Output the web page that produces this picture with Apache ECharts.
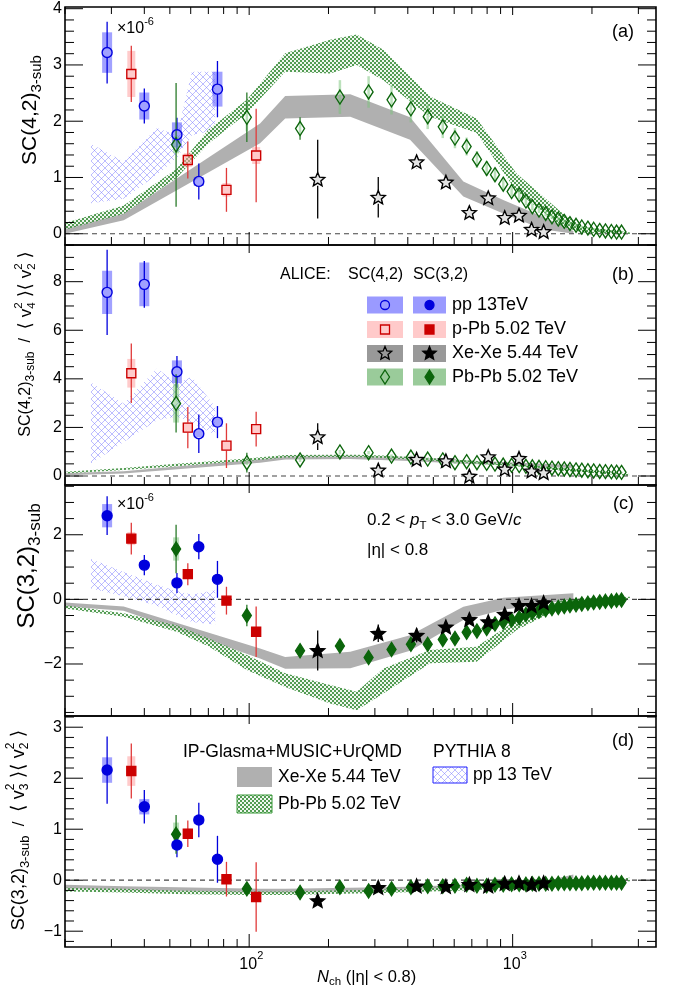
<!DOCTYPE html>
<html><head><meta charset="utf-8">
<script src="https://cdn.jsdelivr.net/npm/echarts@6/dist/echarts.min.js"></script>
<style>html,body{margin:0;padding:0;background:#fff}#c{width:673px;height:994px}</style>
</head><body><div id="c"></div>
<script>
// ---------------- DATA ----------------
const X_MIN = 20, X_MAX = 3500;
const yRanges = [[-0.2, 4.03], [-0.37, 9.51], [-3.61, 3.54], [-1.31, 3.22]];
const yMajorA = [0, 1, 2, 3, 4];
const yMajorB = [0, 2, 4, 6, 8];
const yMajorC = [-2, 0, 2];
const yMajorD = [-1, 0, 1, 2, 3];
const xMajorTicks = [100, 1000];
const xMajorBase = ['10', '10'];
const xMajorExp = ['2', '3'];
const xMinorTicks = [20, 30, 40, 50, 60, 70, 80, 90, 200, 300, 400, 500, 600, 700, 800, 900, 2000, 3000];

// pp 13 TeV
const ppN = [28.9, 40.0, 53.2, 64.4, 75.8];
const ppA = [3.22, 2.27, 1.76, 0.93, 2.57];
const ppA_stat = [0.55, 0.31, 0.30, 0.32, 0.50];
const ppA_sys = [0.36, 0.24, 0.22, 0.08, 0.31];
const ppB = [7.56, 7.89, 4.29, 1.74, 2.22];
const ppB_stat = [1.75, 0.96, 0.65, 0.79, 0.66];
const ppB_sys = [0.89, 0.90, 0.47, 0.15, 0.20];
const ppC = [2.59, 1.06, 0.51, 1.63, 0.62];
const ppC_stat = [0.60, 0.31, 0.31, 0.39, 0.57];
const ppC_sys = [0.36, 0.10, 0.08, 0.08, 0.08];
const ppD = [2.16, 1.44, 0.69, 1.18, 0.41];
const ppD_stat = [0.66, 0.33, 0.24, 0.34, 0.46];
const ppD_sys = [0.25, 0.15, 0.08, 0.08, 0.05];

// p-Pb 5.02 TeV
const pPbN = [35.7, 58.5, 82.0, 106.3];
const pPbA = [2.84, 1.31, 0.78, 1.39];
const pPbA_stat = [0.50, 0.33, 0.39, 0.83];
const pPbA_sys = [0.41, 0.12, 0.12, 0.15];
const pPbB = [4.23, 1.99, 1.25, 1.93];
const pPbB_stat = [1.22, 0.85, 0.92, 0.72];
const pPbB_sys = [0.59, 0.22, 0.20, 0.20];
const pPbC = [1.88, 0.78, -0.04, -1.00];
const pPbC_stat = [0.49, 0.34, 0.43, 0.78];
const pPbC_sys = [0.20, 0.12, 0.10, 0.10];
const pPbD = [2.14, 0.91, 0.02, -0.33];
const pPbD_stat = [0.54, 0.26, 0.34, 0.68];
const pPbD_sys = [0.29, 0.10, 0.05, 0.05];

// Xe-Xe 5.44 TeV
const XeN = [182, 309, 432, 558, 685, 808, 933, 1057, 1180, 1311];
const XeA = [0.97, 0.65, 1.28, 0.92, 0.38, 0.64, 0.29, 0.33, 0.08, 0.04];
const XeA_stat = [0.70, 0.36, 0.12, 0.10, 0.08, 0.08, 0.06, 0.06, 0.05, 0.05];
const XeB = [1.62, 0.25, 0.69, 0.63, 0.00, 0.80, 0.29, 0.73, 0.21, 0.14];
const XeB_stat = [0.55, 0.12, 0.10, 0.10, 0.10, 0.10, 0.08, 0.08, 0.06, 0.06];
const XeC = [-1.58, -1.05, -1.11, -0.85, -0.62, -0.69, -0.46, -0.19, -0.19, -0.10];
const XeC_stat = [0.62, 0.27, 0.22, 0.12, 0.10, 0.10, 0.08, 0.08, 0.06, 0.06];
const XeD = [-0.40, -0.14, -0.11, -0.12, -0.08, -0.11, -0.06, -0.05, -0.08, -0.05];
const XeD_stat = [0.08, 0.05, 0.05, 0.04, 0.04, 0.04, 0.03, 0.03, 0.03, 0.03];

// Pb-Pb 5.02 TeV
const PbN = [52.8, 98, 156, 221, 284, 347, 411, 476, 543, 604, 669, 732, 797, 857, 921, 991, 1059, 1123, 1188, 1259,
  1335, 1410, 1490, 1570, 1650, 1740, 1830, 1930, 2030, 2140, 2250, 2370, 2480, 2590];
const PbA = [1.58, 2.07, 1.87, 2.43, 2.52, 2.38, 2.22, 2.08, 1.90, 1.70, 1.55, 1.32, 1.16, 1.05, 0.88, 0.75, 0.69, 0.58, 0.48, 0.42,
  0.36, 0.30, 0.26, 0.22, 0.18, 0.15, 0.12, 0.10, 0.08, 0.06, 0.05, 0.04, 0.03, 0.03];
const PbA_stat = [1.10, 0.44, 0.20, 0.06, 0.05, 0.05, 0.05, 0.04, 0.04, 0.04, 0.03, 0.03, 0.03, 0.03, 0.03, 0.03, 0.02, 0.02, 0.02, 0.02,
  0.02, 0.02, 0.02, 0.02, 0.02, 0.02, 0.02, 0.02, 0.02, 0.02, 0.02, 0.02, 0.02, 0.02];
const PbA_sys = [0.15, 0.25, 0.12, 0.30, 0.28, 0.26, 0.24, 0.22, 0.20, 0.18, 0.16, 0.15, 0.13, 0.12, 0.10, 0.09, 0.08, 0.07, 0.06, 0.05,
  0.05, 0.04, 0.04, 0.03, 0.03, 0.03, 0.02, 0.02, 0.02, 0.02, 0.02, 0.02, 0.02, 0.02];
const PbB = [2.99, 0.55, 0.66, 0.99, 0.96, 0.82, 0.78, 0.70, 0.66, 0.55, 0.59, 0.55, 0.52, 0.49, 0.45, 0.44, 0.43, 0.40, 0.38, 0.36,
  0.34, 0.32, 0.30, 0.29, 0.27, 0.25, 0.24, 0.22, 0.21, 0.19, 0.18, 0.17, 0.16, 0.15];
const PbB_stat = [1.20, 0.41, 0.10, 0.05, 0.05, 0.04, 0.04, 0.04, 0.03, 0.03, 0.03, 0.03, 0.03, 0.03, 0.03, 0.02, 0.02, 0.02, 0.02, 0.02,
  0.02, 0.02, 0.02, 0.02, 0.02, 0.02, 0.02, 0.02, 0.02, 0.02, 0.02, 0.02, 0.02, 0.02];
const PbB_sys = [0.79, 0.10, 0.08, 0.08, 0.07, 0.07, 0.06, 0.06, 0.05, 0.05, 0.05, 0.04, 0.04, 0.04, 0.04, 0.03, 0.03, 0.03, 0.03, 0.03,
  0.03, 0.03, 0.03, 0.03, 0.02, 0.02, 0.02, 0.02, 0.02, 0.02, 0.02, 0.02, 0.02, 0.02];
const PbC = [1.56, -0.50, -1.59, -1.44, -1.80, -1.55, -1.39, -1.39, -1.24, -1.21, -1.02, -0.98, -0.90, -0.76, -0.70, -0.64, -0.57, -0.47, -0.41, -0.36,
  -0.32, -0.28, -0.25, -0.22, -0.19, -0.17, -0.14, -0.12, -0.10, -0.08, -0.06, -0.05, -0.03, -0.02];
const PbC_stat = [0.75, 0.33, 0.10, 0.08, 0.08, 0.07, 0.06, 0.06, 0.05, 0.05, 0.04, 0.04, 0.04, 0.03, 0.03, 0.03, 0.03, 0.03, 0.02, 0.02,
  0.02, 0.02, 0.02, 0.02, 0.02, 0.02, 0.02, 0.02, 0.02, 0.02, 0.02, 0.02, 0.02, 0.02];
const PbC_sys = [0.36, 0.10, 0.08, 0.08, 0.08, 0.07, 0.06, 0.06, 0.05, 0.05, 0.05, 0.04, 0.04, 0.04, 0.04, 0.03, 0.03, 0.03, 0.03, 0.03,
  0.02, 0.02, 0.02, 0.02, 0.02, 0.02, 0.02, 0.02, 0.02, 0.02, 0.02, 0.02, 0.02, 0.02];
const PbD = [0.90, -0.17, -0.24, -0.14, -0.21, -0.17, -0.14, -0.12, -0.12, -0.11, -0.09, -0.11, -0.11, -0.09, -0.09, -0.08, -0.08, -0.08, -0.07, -0.07,
  -0.07, -0.07, -0.06, -0.06, -0.06, -0.06, -0.06, -0.05, -0.05, -0.05, -0.05, -0.05, -0.05, -0.05];
const PbD_stat = [0.38, 0.08, 0.05, 0.04, 0.04, 0.03, 0.03, 0.03, 0.03, 0.02, 0.02, 0.02, 0.02, 0.02, 0.02, 0.02, 0.02, 0.02, 0.02, 0.02,
  0.02, 0.02, 0.02, 0.02, 0.02, 0.02, 0.02, 0.02, 0.02, 0.02, 0.02, 0.02, 0.02, 0.02];
const PbD_sys = [0.23, 0.05, 0.04, 0.03, 0.03, 0.03, 0.03, 0.03, 0.02, 0.02, 0.02, 0.02, 0.02, 0.02, 0.02, 0.02, 0.02, 0.02, 0.02, 0.02,
  0.02, 0.02, 0.02, 0.02, 0.02, 0.02, 0.02, 0.02, 0.02, 0.02, 0.02, 0.02, 0.02, 0.02];

// IP-Glasma+MUSIC+UrQMD Xe-Xe band
const XeModelN = [20, 33.4, 110, 137, 242, 408, 650, 921, 1300, 1700];
const XeModelA_lo = [0.00, 0.24, 1.61, 2.05, 2.08, 1.67, 0.66, 0.36, 0.08, 0.00];
const XeModelA_hi = [0.10, 0.36, 1.96, 2.45, 2.48, 2.07, 0.93, 0.60, 0.30, 0.05];
const XeModelB_lo = [0.03, 0.10, 0.55, 0.68, 0.70, 0.62, 0.50, 0.45, 0.38, 0.33];
const XeModelB_hi = [0.12, 0.20, 0.70, 0.83, 0.85, 0.78, 0.65, 0.58, 0.50, 0.45];
const XeModelC_lo = [-0.22, -0.35, -1.83, -2.15, -2.13, -1.59, -0.64, -0.32, -0.14, 0.00];
const XeModelC_hi = [-0.10, -0.22, -1.52, -1.78, -1.62, -1.11, -0.23, 0.05, 0.13, 0.19];
const XeModelD_lo = [-0.17, -0.20, -0.25, -0.25, -0.23, -0.21, -0.17, -0.13, -0.10, 0.04];
const XeModelD_hi = [-0.09, -0.12, -0.17, -0.17, -0.15, -0.13, -0.09, -0.06, -0.03, 0.11];

// IP-Glasma+MUSIC+UrQMD Pb-Pb band
const PbModelN = [20, 33.4, 53, 70, 98, 137, 203, 256, 323, 486, 730, 1035, 1550, 1850, 2786];
const PbModelA_lo = [0.07, 0.35, 0.99, 1.60, 2.14, 2.88, 2.85, 3.00, 2.73, 2.08, 1.79, 0.75, 0.12, 0.02, -0.01];
const PbModelA_hi = [0.19, 0.50, 1.15, 1.85, 2.38, 3.21, 3.45, 3.54, 3.27, 2.44, 2.05, 1.07, 0.36, 0.12, 0.02];
const PbModelB_lo = [0.10, 0.25, 0.40, 0.50, 0.62, 0.76, 0.78, 0.78, 0.74, 0.64, 0.52, 0.40, 0.22, 0.15, 0.00];
const PbModelB_hi = [0.18, 0.33, 0.50, 0.60, 0.72, 0.86, 0.88, 0.88, 0.84, 0.74, 0.62, 0.50, 0.32, 0.25, 0.08];
const PbModelC_lo = [-0.28, -0.54, -1.00, -1.45, -2.19, -2.71, -3.22, -3.43, -2.91, -1.98, -1.93, -0.95, -0.23, -0.10, -0.02];
const PbModelC_hi = [-0.18, -0.43, -0.80, -1.20, -1.72, -2.29, -2.65, -2.86, -2.14, -1.57, -1.47, -0.64, -0.02, 0.03, 0.08];
const PbModelD_lo = [-0.22, -0.24, -0.27, -0.28, -0.29, -0.29, -0.27, -0.26, -0.25, -0.22, -0.19, -0.16, -0.12, -0.09, -0.02];
const PbModelD_hi = [-0.15, -0.17, -0.20, -0.21, -0.22, -0.22, -0.20, -0.19, -0.18, -0.15, -0.12, -0.09, -0.05, -0.02, 0.05];

// PYTHIA 8 pp 13 TeV band
const PyN = [25.1, 33.4, 44.7, 53.2, 60.6, 74.3];
const PyA_lo = [0.54, 0.62, 1.05, 1.35, 1.75, 1.85];
const PyA_hi = [1.60, 1.28, 1.88, 1.75, 2.88, 2.88];
const PyB_lo = [0.50, 1.40, 2.30, 2.45, 2.20, 1.70];
const PyB_hi = [3.85, 2.99, 4.43, 3.81, 4.09, 2.85];
const PyC_lo = [0.34, 0.10, -0.20, -0.50, -0.70, -0.78];
const PyC_hi = [1.25, 0.85, 0.45, 0.25, 0.15, 0.28];

// ---------------- HELPERS ----------------
const FONT = '"Liberation Sans", Arial, Helvetica, "DejaVu Sans", sans-serif';
const yMajors = [yMajorA, yMajorB, yMajorC, yMajorD];
const yMinorStep = [0.2, 0.5, 0.5, 0.2];
const gridBoxes = [{top: 7, height: 238}, {top: 245, height: 240}, {top: 485, height: 231}, {top: 716, height: 231}];

const mctx = document.createElement('canvas').getContext('2d');
function fnt(s, it) { return (it ? 'italic ' : '') + s + 'px ' + FONT; }
function tw(t, s, it) { mctx.font = fnt(s, it); return mctx.measureText(t).width; }
function textGroup(segs, gx, gy, anchor, rotate, color) {
  let x = 0, pend = 0; const els = [];
  segs.forEach(g => {
    const w = tw(g.t, g.s, g.it);
    els.push({type: 'text', x: x, y: g.dy || 0, z: 50,
      style: {text: g.t, font: fnt(g.s, g.it), fill: color || '#000', align: 'left', verticalAlign: 'middle'}});
    if (g.stack) { pend = w; } else { x += Math.max(w, pend); pend = 0; }
  });
  const off = anchor === 'center' ? -x / 2 : anchor === 'right' ? -x : 0;
  els.forEach(e => e.x += off);
  return {type: 'group', x: gx, y: gy, rotation: rotate ? Math.PI / 2 : 0, children: els, z: 50};
}
function fmt(v) { return v < 0 ? '\u2212' + Math.abs(v) : String(v); }
function starPts(cx, cy, R, ri) {
  const p = [];
  for (let k = 0; k < 10; k++) { const r = k % 2 ? R * ri : R; const a = -Math.PI / 2 + k * Math.PI / 5; p.push([cx + r * Math.cos(a), cy + r * Math.sin(a)]); }
  return p;
}
const starPath = 'path://' + starPts(0, 0, 10, 0.45).map((p, i) => (i ? 'L' : 'M') + p[0].toFixed(2) + ',' + p[1].toFixed(2)).join(' ') + 'Z';

function greenPattern() {
  const c = document.createElement('canvas'); c.width = 4; c.height = 4; const g = c.getContext('2d');
  g.fillStyle = 'rgba(225,240,225,0.5)'; g.fillRect(0, 0, 4, 4);
  g.fillStyle = 'rgba(55,140,55,0.85)'; g.fillRect(0, 0, 2, 2); g.fillRect(2, 2, 2, 2);
  return {image: c, repeat: 'repeat'};
}
function bluePattern() {
  const c = document.createElement('canvas'); c.width = 7; c.height = 7; const g = c.getContext('2d');
  g.strokeStyle = 'rgba(120,120,255,0.7)'; g.lineWidth = 0.7;
  g.beginPath(); g.moveTo(0, 0); g.lineTo(7, 7); g.moveTo(7, 0); g.lineTo(0, 7); g.stroke();
  return {image: c, repeat: 'repeat'};
}
const GREENPAT = greenPattern(), BLUEPAT = bluePattern();

function bandSeries(gi, xs, lo, hi, fill, z) {
  const data = xs.map((x, i) => [x, lo[i], hi[i]]);
  return {type: 'custom', xAxisIndex: gi, yAxisIndex: gi, data: data, clip: true, z: z || 1, silent: true,
    renderItem: function (params, api) {
      if (params.dataIndex !== 0) return null;
      const top = data.map(d => api.coord([d[0], d[2]]));
      const bot = data.map(d => api.coord([d[0], d[1]])).reverse();
      return {type: 'polygon', shape: {points: top.concat(bot)}, style: {fill: fill, stroke: null}};
    }};
}
// sysW: width of the systematic box; firstW optionally overrides the first point's width
function errSeries(gi, xs, vals, stats, syss, col, sysCol, sysW, r, firstW) {
  const data = xs.map((x, i) => [x, vals[i], stats[i], syss ? syss[i] : 0]);
  return {type: 'custom', xAxisIndex: gi, yAxisIndex: gi, data: data, clip: true, z: 3, silent: true,
    renderItem: function (params, api) {
      const x = api.value(0), y = api.value(1), st = api.value(2), sy = api.value(3);
      const c = api.coord([x, y]), t = api.coord([x, y + st]), b = api.coord([x, y - st]);
      const sT = api.coord([x, y + sy]), sB = api.coord([x, y - sy]);
      const w = (firstW && params.dataIndex === 0) ? firstW : sysW;
      const ch = [];
      if (sy > 0) ch.push({type: 'rect', shape: {x: c[0] - w / 2, y: sT[1], width: w, height: sB[1] - sT[1]}, style: {fill: sysCol}});
      if (t[1] < c[1] - r) ch.push({type: 'line', shape: {x1: c[0], y1: t[1], x2: c[0], y2: c[1] - r}, style: {stroke: col, lineWidth: 1.3}});
      if (b[1] > c[1] + r) ch.push({type: 'line', shape: {x1: c[0], y1: c[1] + r, x2: c[0], y2: b[1]}, style: {stroke: col, lineWidth: 1.3}});
      return {type: 'group', children: ch};
    }};
}
function markSeries(gi, xs, vals, symbol, size, fill, stroke) {
  return {type: 'scatter', xAxisIndex: gi, yAxisIndex: gi, data: xs.map((x, i) => [x, vals[i]]),
    symbol: symbol, symbolSize: size, symbolKeepAspect: true, z: 5, silent: true,
    itemStyle: {color: fill, borderColor: stroke, borderWidth: 1.4, opacity: 1}};
}
function zeroSeries(gi) {
  return {type: 'custom', xAxisIndex: gi, yAxisIndex: gi, data: [[100, 0]], clip: true, z: 2, silent: true,
    renderItem: function (params, api) {
      const a = api.coord([X_MIN, 0]), b = api.coord([X_MAX, 0]);
      return {type: 'line', shape: {x1: a[0], y1: a[1], x2: b[0], y2: b[1]}, style: {stroke: '#444', lineWidth: 1.2, lineDash: [5, 4]}};
    }};
}
function axesSeries(gi) {
  const ymin = yRanges[gi][0], ymax = yRanges[gi][1];
  const majors = yMajors[gi], step = yMinorStep[gi];
  return {type: 'custom', xAxisIndex: gi, yAxisIndex: gi, data: [[100, 0]], clip: false, z: 20, silent: true,
    renderItem: function (params, api) {
      const ch = [];
      const L = api.coord([X_MIN, ymin])[0], R = api.coord([X_MAX, ymin])[0];
      const B = api.coord([X_MIN, ymin])[1], T = api.coord([X_MIN, ymax])[1];
      const ln = (x1, y1, x2, y2) => ch.push({type: 'line', shape: {x1, y1, x2, y2}, style: {stroke: '#000', lineWidth: 1}});
      const n0 = Math.ceil(ymin / step - 1e-9), n1 = Math.floor(ymax / step + 1e-9);
      for (let k = n0; k <= n1; k++) {
        const v = +(k * step).toFixed(6);
        if (majors.some(m => Math.abs(m - v) < 1e-9)) continue;
        const y = api.coord([X_MIN, v])[1]; ln(L, y, L + 9, y); ln(R, y, R - 9, y);
      }
      majors.forEach(v => {
        const y = api.coord([X_MIN, v])[1]; ln(L, y, L + 18, y); ln(R, y, R - 18, y);
        ch.push({type: 'text', x: L - 3, y: y, style: {text: fmt(v), font: fnt(16), fill: '#000', align: 'right', verticalAlign: 'middle'}});
      });
      xMinorTicks.forEach(n => { const x = api.coord([n, ymin])[0]; ln(x, B, x, B - 8); if (gi === 0) ln(x, T, x, T + 7); });
      xMajorTicks.forEach(n => { const x = api.coord([n, ymin])[0]; ln(x, B, x, B - 13); ln(x, T, x, T + 8); });
      ch.push({type: 'rect', shape: {x: L, y: T, width: R - L, height: B - T}, style: {fill: 'none', stroke: '#000', lineWidth: 1.6}});
      if (gi === 3) {
        xMajorTicks.forEach((n, i) => {
          const x = api.coord([n, ymin])[0];
          ch.push({type: 'text', x: x + 8, y: B + 10, style: {text: xMajorBase[i], font: fnt(16), fill: '#000', align: 'right', verticalAlign: 'top'}});
          ch.push({type: 'text', x: x + 8, y: B + 3, style: {text: xMajorExp[i], font: fnt(11), fill: '#000', align: 'left', verticalAlign: 'top'}});
        });
      }
      return {type: 'group', children: ch};
    }};
}

// colours
const C_PP = '#0000dd', C_PP_SYS = 'rgba(110,110,255,0.65)';
const C_PPB = '#cc0000', C_PPB_LINE = '#e03a3a', C_PPB_SYS = 'rgba(255,160,160,0.55)';
const C_XE = '#000000', C_XE_SYS = 'rgba(120,120,120,0.5)';
const C_PB = '#0b650b', C_PB_LINE = '#2a7a2a', C_PB_SYS = 'rgba(120,195,120,0.5)';
const C_GRAY = '#b0b0b0';
const NONE = 'rgba(0,0,0,0)';

const series = [];
const panels = [
  {pp: [ppA, ppA_stat, ppA_sys], pPb: [pPbA, pPbA_stat, pPbA_sys], Xe: [XeA, XeA_stat], Pb: [PbA, PbA_stat, PbA_sys],
   xeM: [XeModelA_lo, XeModelA_hi], pbM: [PbModelA_lo, PbModelA_hi], py: [PyA_lo, PyA_hi], open: true},
  {pp: [ppB, ppB_stat, ppB_sys], pPb: [pPbB, pPbB_stat, pPbB_sys], Xe: [XeB, XeB_stat], Pb: [PbB, PbB_stat, PbB_sys],
   xeM: [XeModelB_lo, XeModelB_hi], pbM: [PbModelB_lo, PbModelB_hi], py: [PyB_lo, PyB_hi], open: true},
  {pp: [ppC, ppC_stat, ppC_sys], pPb: [pPbC, pPbC_stat, pPbC_sys], Xe: [XeC, XeC_stat], Pb: [PbC, PbC_stat, PbC_sys],
   xeM: [XeModelC_lo, XeModelC_hi], pbM: [PbModelC_lo, PbModelC_hi], py: [PyC_lo, PyC_hi], open: false},
  {pp: [ppD, ppD_stat, ppD_sys], pPb: [pPbD, pPbD_stat, pPbD_sys], Xe: [XeD, XeD_stat], Pb: [PbD, PbD_stat, PbD_sys],
   xeM: [XeModelD_lo, XeModelD_hi], pbM: [PbModelD_lo, PbModelD_hi], py: null, open: false}
];
panels.forEach((P, gi) => {
  if (P.py) series.push(bandSeries(gi, PyN, P.py[0], P.py[1], BLUEPAT, 1));
  series.push(bandSeries(gi, XeModelN, P.xeM[0], P.xeM[1], C_GRAY, 1));
  series.push(bandSeries(gi, PbModelN, P.pbM[0], P.pbM[1], GREENPAT, 1));
  series.push(zeroSeries(gi));
  const o = P.open;
  series.push(errSeries(gi, ppN, P.pp[0], P.pp[1], P.pp[2], C_PP, C_PP_SYS, 10, o ? 5 : 0));
  series.push(errSeries(gi, pPbN, P.pPb[0], P.pPb[1], P.pPb[2], C_PPB_LINE, C_PPB_SYS, 8, o ? 5 : 0));
  series.push(errSeries(gi, PbN, P.Pb[0], P.Pb[1], P.Pb[2], C_PB_LINE, C_PB_SYS, 2.5, o ? 6.5 : 0, 6));
  series.push(errSeries(gi, XeN, P.Xe[0], P.Xe[1], null, C_XE, C_XE_SYS, 6, o ? 6.5 : 0));
  series.push(markSeries(gi, PbN, P.Pb[0], 'diamond', [9, 14], o ? NONE : C_PB, C_PB));
  series.push(markSeries(gi, XeN, P.Xe[0], starPath, [14, 14], o ? '#e4e4e4' : '#000', '#000'));
  series.push(markSeries(gi, pPbN, P.pPb[0], 'rect', [9, 9], o ? NONE : C_PPB, C_PPB));
  series.push(markSeries(gi, ppN, P.pp[0], 'circle', [10, 10], o ? NONE : C_PP, C_PP));
  series.push(axesSeries(gi));
});

// ---------------- TEXT / LEGENDS ----------------
const graphics = [];
graphics.push(textGroup([{t: 'SC(4,2)', s: 21}, {t: '3-sub', s: 15, dy: 7}], 30, 110, 'center', true));
graphics.push(textGroup([{t: 'SC(4,2)', s: 16}, {t: '3-sub', s: 12, dy: 5}, {t: '  /  ', s: 16},
  {t: '\u27E8 ', s: 18}, {t: 'v', s: 17}, {t: '2', s: 11.5, dy: -7, stack: true}, {t: '4', s: 11.5, dy: 6},
  {t: ' \u27E9\u27E8 ', s: 18}, {t: 'v', s: 17}, {t: '2', s: 11.5, dy: -7, stack: true}, {t: '2', s: 11.5, dy: 6},
  {t: ' \u27E9', s: 18}], 26, 344, 'center', true));
graphics.push(textGroup([{t: 'SC(3,2)', s: 24}, {t: '3-sub', s: 17, dy: 8}], 27, 566, 'center', true));
graphics.push(textGroup([{t: 'SC(3,2)', s: 18}, {t: '3-sub', s: 13, dy: 6}, {t: '  /  ', s: 17},
  {t: '\u27E8 ', s: 19}, {t: 'v', s: 18}, {t: '2', s: 12, dy: -8, stack: true}, {t: '3', s: 12, dy: 6},
  {t: ' \u27E9\u27E8 ', s: 19}, {t: 'v', s: 18}, {t: '2', s: 12, dy: -8, stack: true}, {t: '2', s: 12, dy: 6},
  {t: ' \u27E9', s: 19}], 19, 830, 'center', true));
graphics.push(textGroup([{t: 'N', s: 16.5, it: true}, {t: 'ch', s: 11.5, dy: 5}, {t: ' (|\u03B7| < 0.8)', s: 16.5}], 317, 977, 'left', false));
graphics.push(textGroup([{t: '\u00D710', s: 16}, {t: '-6', s: 11, dy: -7}], 117, 29, 'left', false));
graphics.push(textGroup([{t: '\u00D710', s: 16}, {t: '-6', s: 11, dy: -7}], 117, 505, 'left', false));
[['(a)', 32], ['(b)', 275], ['(c)', 504], ['(d)', 741]].forEach(p => graphics.push(textGroup([{t: p[0], s: 18}], 634, p[1], 'right', false)));
graphics.push(textGroup([{t: '0.2 < ', s: 17}, {t: 'p', s: 17, it: true}, {t: 'T', s: 11.5, dy: 6}, {t: ' < 3.0 GeV/', s: 17}, {t: 'c', s: 17, it: true}], 367, 520, 'left', false));
graphics.push(textGroup([{t: '|\u03B7| < 0.8', s: 17}], 367, 550, 'left', false));

graphics.push(textGroup([{t: 'ALICE:', s: 16}], 280, 275, 'left', false));
graphics.push(textGroup([{t: 'SC(4,2)', s: 16}], 348, 275, 'left', false));
graphics.push(textGroup([{t: 'SC(3,2)', s: 16}], 413, 275, 'left', false));
const legRows = [
  {y: 305, box: '#9a9aff', name: 'pp 13TeV', col: C_PP, shape: 'circle'},
  {y: 329.5, box: '#ffcaca', name: 'p-Pb 5.02 TeV', col: C_PPB, shape: 'square'},
  {y: 353.5, box: '#999999', name: 'Xe-Xe 5.44 TeV', col: '#000', shape: 'star'},
  {y: 377, box: '#9acb9a', name: 'Pb-Pb 5.02 TeV', col: C_PB, shape: 'diamond'}
];
function legMarker(shape, cx, cy, col, filled) {
  const st = {fill: filled ? col : 'none', stroke: col, lineWidth: 1.3};
  if (shape === 'circle') return {type: 'circle', shape: {cx, cy, r: 4.5}, style: st, z: 51};
  if (shape === 'square') return {type: 'rect', shape: {x: cx - 4.5, y: cy - 4.5, width: 9, height: 9}, style: st, z: 51};
  if (shape === 'star') return {type: 'polygon', shape: {points: starPts(cx, cy, 7, 0.45)}, style: st, z: 51};
  return {type: 'polygon', shape: {points: [[cx, cy - 7], [cx + 4.5, cy], [cx, cy + 7], [cx - 4.5, cy]]}, style: st, z: 51};
}
legRows.forEach(r => {
  graphics.push({type: 'rect', shape: {x: 367, y: r.y - 8.5, width: 36, height: 17}, style: {fill: r.box}, z: 50});
  graphics.push({type: 'rect', shape: {x: 413, y: r.y - 8.5, width: 33, height: 17}, style: {fill: r.box}, z: 50});
  graphics.push(legMarker(r.shape, 385, r.y, r.col, false));
  graphics.push(legMarker(r.shape, 429.5, r.y, r.col, true));
  graphics.push(textGroup([{t: r.name, s: 18}], 452, r.y, 'left', false));
});

graphics.push(textGroup([{t: 'IP-Glasma+MUSIC+UrQMD', s: 17.5}], 183, 752, 'left', false));
graphics.push({type: 'rect', shape: {x: 237, y: 767, width: 35, height: 20}, style: {fill: C_GRAY}, z: 50});
graphics.push(textGroup([{t: 'Xe-Xe 5.44 TeV', s: 17.5}], 278, 777, 'left', false));
graphics.push({type: 'rect', shape: {x: 237, y: 795, width: 35, height: 18}, style: {fill: GREENPAT, stroke: '#3a9a3a', lineWidth: 1}, z: 50});
graphics.push(textGroup([{t: 'Pb-Pb 5.02 TeV', s: 17.5}], 278, 804, 'left', false));
graphics.push(textGroup([{t: 'PYTHIA 8', s: 17.5}], 433, 752, 'left', false));
graphics.push({type: 'rect', shape: {x: 433, y: 767, width: 34, height: 16}, style: {fill: BLUEPAT, stroke: '#2020ff', lineWidth: 1}, z: 50});
graphics.push(textGroup([{t: 'pp 13 TeV', s: 17.5}], 473, 775, 'left', false));

// ---------------- CHART ----------------
const chart = echarts.init(document.getElementById('c'), null, {renderer: 'canvas'});
chart.setOption({
  animation: false,
  backgroundColor: '#fff',
  grid: gridBoxes.map(g => ({left: 65, right: 17, top: g.top, height: g.height, show: false})),
  xAxis: gridBoxes.map((g, i) => ({type: 'log', logBase: 10, min: X_MIN, max: X_MAX, gridIndex: i, show: false})),
  yAxis: gridBoxes.map((g, i) => ({type: 'value', min: yRanges[i][0], max: yRanges[i][1], gridIndex: i, show: false})),
  series: series,
  graphic: {elements: graphics}
});
</script></body></html>
